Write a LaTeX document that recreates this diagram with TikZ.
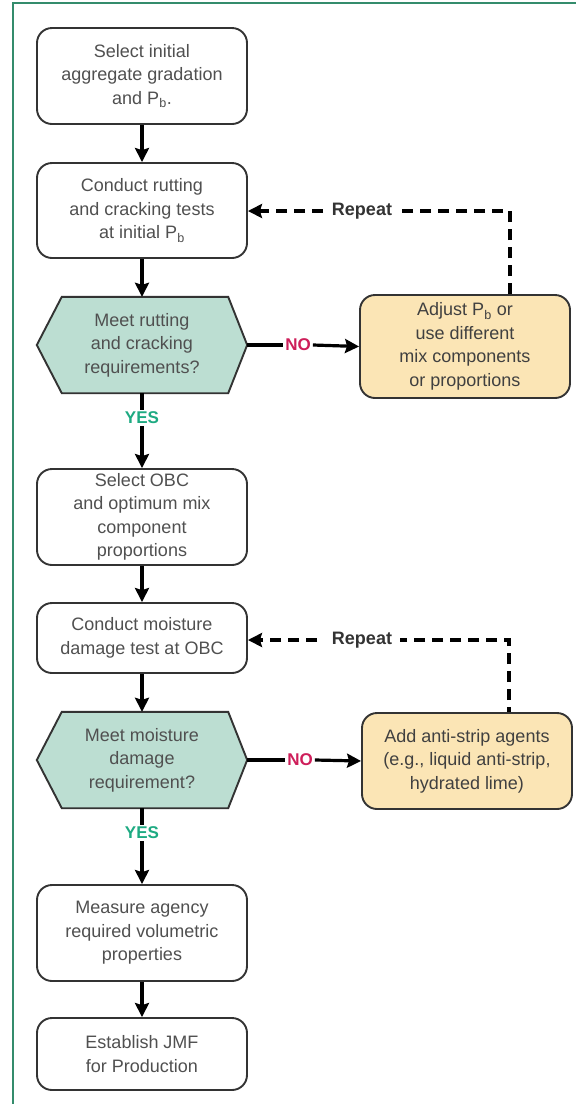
\documentclass[tikz,border=0pt]{standalone}
\usepackage{fontspec}
\setmainfont{Liberation Sans}
\usetikzlibrary{arrows.meta,calc}
\definecolor{framegreen}{RGB}{52,140,108}
\definecolor{hexfill}{RGB}{188,222,210}
\definecolor{yelfill}{RGB}{251,229,181}
\definecolor{boxtext}{RGB}{80,80,80}
\definecolor{nored}{RGB}{206,30,90}
\definecolor{yesgreen}{RGB}{30,170,130}
\tikzset{
  procbox/.style={draw=black!80, line width=1.9pt, rounded corners=15pt, fill=white,
    minimum width=210pt, align=center, text=boxtext, font=\fontsize{18}{23.5}\selectfont, inner sep=2pt},
  actbox/.style={procbox, fill=yelfill, text=black!75},
  hexnode/.style={minimum width=210pt, minimum height=96pt, align=center, text=boxtext,
    font=\fontsize{18}{23.5}\selectfont, inner sep=0pt},
  flow/.style={line width=3.2pt, draw=black, -{Stealth[length=14pt,width=14pt,inset=2pt]}},
  plainline/.style={line width=3.2pt, draw=black},
  repline/.style={line width=3.2pt, draw=black, dash pattern=on 11pt off 7pt,
    -{Stealth[length=14pt,width=14pt,inset=2pt]}},
  nolabel/.style={text=nored, font=\fontsize{17}{20}\selectfont\bfseries, inner sep=2pt},
  yeslabel/.style={text=yesgreen, font=\fontsize{17}{20}\selectfont\bfseries, inner sep=2pt},
  replabel/.style={text=black!80, fill=white, font=\fontsize{18}{20}\selectfont\bfseries, inner xsep=8pt, inner ysep=2pt}
}
\begin{document}
\begin{tikzpicture}[x=1pt,y=-1pt]
\useasboundingbox (0,0) rectangle (576,1104);
\fill[white] (0,0) rectangle (576,1104);
\draw[framegreen, line width=2.4pt] (13,1104) -- (13,3) -- (576,3);

% main column
\node[procbox, minimum height=96pt] (b1) at (142,76) {Select initial\\aggregate gradation\\and P\textsubscript{b}.};
\node[procbox, minimum height=95pt] (b2) at (142,210.5) {Conduct rutting\\and cracking tests\\at initial P\textsubscript{b}};
\node[hexnode] (h1) at (142,345) {};
\node[procbox, minimum height=96pt] (b3) at (142,517) {Select OBC\\and optimum mix\\component\\proportions};
\node[procbox, minimum height=70pt] (b4) at (142,638) {Conduct moisture\\damage test at OBC};
\node[hexnode] (h2) at (142,760) {};
\node[procbox, minimum height=96pt] (b5) at (142,933) {Measure agency\\required volumetric\\properties};
\node[procbox, minimum height=72pt] (b6) at (142,1054) {Establish JMF\\for Production};

% hexagon outlines
\foreach \h in {h1,h2}{
  \filldraw[fill=hexfill, draw=black!80, line width=1.9pt, line join=miter]
    (\h.west) -- ($(\h.north west)+(25,0)$) -- ($(\h.north east)+(-19,0)$) -- (\h.east)
    -- ($(\h.south east)+(-19,0)$) -- ($(\h.south west)+(25,0)$) -- cycle;
}
\node[hexnode] (h1t) at (h1) {Meet rutting\\and cracking\\requirements?};
\node[hexnode] (h2t) at (h2) {Meet moisture\\damage\\requirement?};

% side boxes
\node[actbox, minimum height=103pt] (y1) at (465,346.5) {Adjust P\textsubscript{b} or\\use different\\mix components\\or proportions};
\node[actbox, minimum height=96pt] (y2) at (467,761) {Add anti-strip agents\\(e.g., liquid anti-strip,\\hydrated lime)};

% labels
\node[nolabel] (no1) at (298,345) {NO};
\node[nolabel] (no2) at (300,760) {NO};
\node[yeslabel] (yes1) at (142,418) {YES};
\node[yeslabel] (yes2) at (142,833) {YES};

% main flow
\draw[flow] (b1) -- (b2);
\draw[flow] (b2) -- (h1);
\draw[plainline] (h1.south) -- (yes1.north);
\draw[flow] (yes1.south) -- (b3.north);
\draw[flow] (b3) -- (b4);
\draw[flow] (b4) -- (h2);
\draw[plainline] (h2.south) -- (yes2.north);
\draw[flow] (yes2.south) -- (b5.north);
\draw[flow] (b5) -- (b6);

% NO branches
\draw[plainline] (h1.east) -- (no1.west);
\draw[flow] (no1.east) -- (y1.west);
\draw[plainline] (h2.east) -- (no2.west);
\draw[flow] (no2.east) -- (y2.west);

% repeat loops
\coordinate (c1) at (510,211);
\coordinate (c2) at (509,640);
\draw[repline] (c1 |- y1.north) -- (c1) -- (b2.east |- c1);
\draw[repline, dash phase=6pt] (c2 |- y2.north) -- (c2) -- (b4.east |- c2);
\node[replabel] (rep1) at (362,211) {Repeat};
\node[replabel] (rep2) at (362,640) {Repeat};
\end{tikzpicture}
\end{document}
